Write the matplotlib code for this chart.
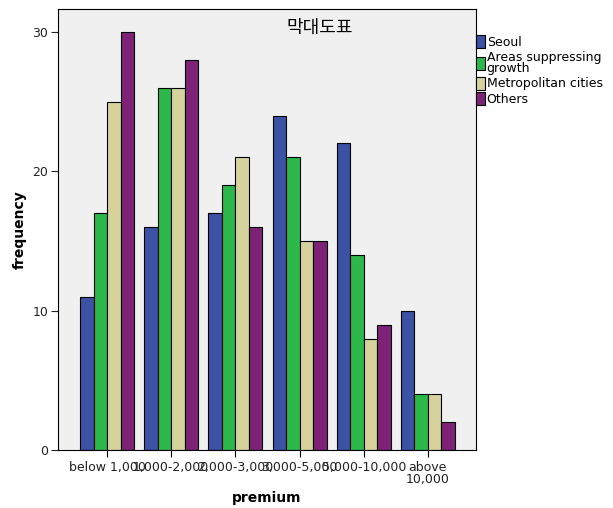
import matplotlib
matplotlib.use("Agg")
import matplotlib.pyplot as plt
import numpy as np

plt.rcParams['font.family'] = ['DejaVu Sans', 'Noto Sans CJK KR']

categories = ["below 1,000", "1,000-2,000", "2,000-3,000", "3,000-5,000", "5,000-10,000", "above\n10,000"]
series_names = ["Seoul", "Areas suppressing\ngrowth", "Metropolitan cities", "Others"]
seoul = [11, 16, 17, 24, 22, 10]
areas = [17, 26, 19, 21, 14, 4]
metro = [25, 26, 21, 15, 8, 4]
others = [30, 28, 16, 15, 9, 2]
colors = ["#3B52A5", "#2DB84A", "#D5D29C", "#7E2277"]

fig = plt.figure(figsize=(6.13, 5.08), dpi=100)
ax = fig.add_axes([58/613, 1-450/508, (476-58)/613, (450-9)/508])
ax.set_facecolor("#F0F0F0")

x = np.arange(len(categories))
w = 0.21
for i, (vals, name, c) in enumerate(zip([seoul, areas, metro, others], series_names, colors)):
    ax.bar(x + (i - 1.5) * w, vals, w, color=c, edgecolor="black", linewidth=0.8, label=name)

ax.set_xlim(-0.766, 5.75)
ax.set_ylim(0, 31.65)
ax.set_yticks([0, 10, 20, 30])
ax.set_xticks(x)
ax.set_xticklabels(categories, fontsize=9, color="#222222", linespacing=0.85)
ax.tick_params(axis='y', labelsize=9, colors="#222222", length=5, pad=2)
ax.tick_params(axis='x', length=5, pad=3)
for s in ax.spines.values():
    s.set_color("black")
    s.set_linewidth(0.8)

ax.set_xlabel("premium", fontsize=10, fontweight="bold", labelpad=4)
ax.set_ylabel("frequency", fontsize=10, fontweight="bold", labelpad=4)
ax.text(0.625, 0.977, "막대도표", transform=ax.transAxes, ha="center", va="top",
        fontsize=13, family=["Noto Sans CJK KR", "DejaVu Sans"])

leg = ax.legend(loc="upper left", bbox_to_anchor=(1.0, 0.94), frameon=False,
                fontsize=9, handlelength=0.7, handleheight=1.2, handletextpad=0.15,
                labelspacing=0.15, borderaxespad=0, borderpad=0)
for h in leg.legend_handles:
    h.set_linewidth(0.8)
for t in leg.get_texts():
    t.set_linespacing(0.8)

fig.savefig("out.png", dpi=100)
